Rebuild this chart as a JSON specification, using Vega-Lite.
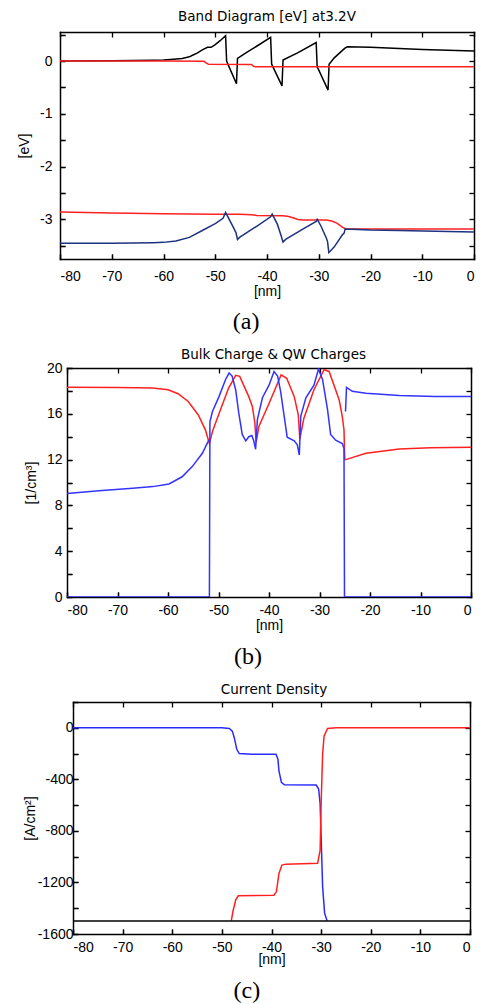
{
  "$schema": "https://vega.github.io/schema/vega-lite/v6.json",
  "padding": {"left": 17, "top": 9, "right": 4, "bottom": 0},
  "background": "white",
  "config": {
    "font": "Liberation Sans",
    "view": {"stroke": null},
    "axis": {
      "domain": true, "domainColor": "black", "domainWidth": 1.5, "domainCap": "square",
      "grid": false, "tickSize": -5, "tickColor": "black", "tickWidth": 1.3,
      "labelFontSize": 14, "labelColor": "black", "labelPadding": 6,
      "titleFontSize": 14, "titleFontWeight": "normal", "titleColor": "black"
    },
    "title": {"fontSize": 13.5, "fontWeight": "normal", "color": "black", "font": "DejaVu Sans"},
    "concat": {"spacing": 13}
  },
  "datasets": {
    "a": [
      {"s": "cb", "x": -80, "y": 0.0}, {"s": "cb", "x": -70, "y": 0.005}, {"s": "cb", "x": -62, "y": 0.015}, {"s": "cb", "x": -60, "y": 0.02},
      {"s": "cb", "x": -58, "y": 0.035}, {"s": "cb", "x": -56.4, "y": 0.05}, {"s": "cb", "x": -55, "y": 0.08}, {"s": "cb", "x": -54.4, "y": 0.11},
      {"s": "cb", "x": -53.5, "y": 0.15}, {"s": "cb", "x": -52.5, "y": 0.21}, {"s": "cb", "x": -51.5, "y": 0.26}, {"s": "cb", "x": -50.8, "y": 0.26},
      {"s": "cb", "x": -50, "y": 0.31}, {"s": "cb", "x": -49, "y": 0.39}, {"s": "cb", "x": -48, "y": 0.48}, {"s": "cb", "x": -47.8, "y": 0.0},
      {"s": "cb", "x": -47.6, "y": -0.05}, {"s": "cb", "x": -45.9, "y": -0.43}, {"s": "cb", "x": -45.7, "y": 0.05}, {"s": "cb", "x": -44, "y": 0.16},
      {"s": "cb", "x": -42, "y": 0.28}, {"s": "cb", "x": -39.3, "y": 0.45}, {"s": "cb", "x": -39.1, "y": -0.06}, {"s": "cb", "x": -38.9, "y": -0.1},
      {"s": "cb", "x": -37.1, "y": -0.47}, {"s": "cb", "x": -36.9, "y": 0.02}, {"s": "cb", "x": -34, "y": 0.16}, {"s": "cb", "x": -30.5, "y": 0.35},
      {"s": "cb", "x": -30.3, "y": -0.12}, {"s": "cb", "x": -30.1, "y": -0.15}, {"s": "cb", "x": -28.2, "y": -0.55}, {"s": "cb", "x": -28.0, "y": -0.06},
      {"s": "cb", "x": -27, "y": 0.06}, {"s": "cb", "x": -26, "y": 0.15}, {"s": "cb", "x": -25, "y": 0.24}, {"s": "cb", "x": -24.5, "y": 0.27},
      {"s": "cb", "x": -20, "y": 0.26}, {"s": "cb", "x": -10, "y": 0.22}, {"s": "cb", "x": 0, "y": 0.19},
      {"s": "ef", "x": -80, "y": 0.0}, {"s": "ef", "x": -60, "y": 0.0}, {"s": "ef", "x": -52.2, "y": -0.005}, {"s": "ef", "x": -51.7, "y": -0.04},
      {"s": "ef", "x": -51.3, "y": -0.06}, {"s": "ef", "x": -43, "y": -0.065}, {"s": "ef", "x": -42.6, "y": -0.1}, {"s": "ef", "x": -42.2, "y": -0.11},
      {"s": "ef", "x": 0, "y": -0.11},
      {"s": "vr", "x": -80, "y": -2.86}, {"s": "vr", "x": -70, "y": -2.88}, {"s": "vr", "x": -60, "y": -2.895}, {"s": "vr", "x": -50, "y": -2.9},
      {"s": "vr", "x": -45.4, "y": -2.9}, {"s": "vr", "x": -43, "y": -2.91}, {"s": "vr", "x": -42, "y": -2.925}, {"s": "vr", "x": -37, "y": -2.93},
      {"s": "vr", "x": -36, "y": -2.94}, {"s": "vr", "x": -35, "y": -2.97}, {"s": "vr", "x": -34, "y": -3.0}, {"s": "vr", "x": -33, "y": -3.01},
      {"s": "vr", "x": -28.5, "y": -3.01}, {"s": "vr", "x": -27.5, "y": -3.03}, {"s": "vr", "x": -26.5, "y": -3.07}, {"s": "vr", "x": -25.5, "y": -3.14},
      {"s": "vr", "x": -24.8, "y": -3.18}, {"s": "vr", "x": -20, "y": -3.18}, {"s": "vr", "x": 0, "y": -3.18},
      {"s": "vb", "x": -80, "y": -3.45}, {"s": "vb", "x": -70, "y": -3.45}, {"s": "vb", "x": -62, "y": -3.44}, {"s": "vb", "x": -60, "y": -3.435},
      {"s": "vb", "x": -57.6, "y": -3.41}, {"s": "vb", "x": -55, "y": -3.34}, {"s": "vb", "x": -52.5, "y": -3.21}, {"s": "vb", "x": -50, "y": -3.08},
      {"s": "vb", "x": -48.5, "y": -2.98}, {"s": "vb", "x": -48, "y": -2.87}, {"s": "vb", "x": -47.3, "y": -3.0}, {"s": "vb", "x": -46.5, "y": -3.15},
      {"s": "vb", "x": -46, "y": -3.25}, {"s": "vb", "x": -45.7, "y": -3.38}, {"s": "vb", "x": -45.3, "y": -3.34}, {"s": "vb", "x": -42, "y": -3.13},
      {"s": "vb", "x": -39.3, "y": -2.95}, {"s": "vb", "x": -39, "y": -2.9}, {"s": "vb", "x": -38, "y": -3.09}, {"s": "vb", "x": -37.3, "y": -3.3},
      {"s": "vb", "x": -36.9, "y": -3.43}, {"s": "vb", "x": -36.4, "y": -3.38}, {"s": "vb", "x": -33, "y": -3.18}, {"s": "vb", "x": -30.5, "y": -3.04},
      {"s": "vb", "x": -30.3, "y": -3.0}, {"s": "vb", "x": -29.6, "y": -3.12}, {"s": "vb", "x": -28.5, "y": -3.36}, {"s": "vb", "x": -28.3, "y": -3.42},
      {"s": "vb", "x": -28.05, "y": -3.63}, {"s": "vb", "x": -27, "y": -3.52}, {"s": "vb", "x": -25.5, "y": -3.3}, {"s": "vb", "x": -25.1, "y": -3.26},
      {"s": "vb", "x": -24.9, "y": -3.18}, {"s": "vb", "x": -20, "y": -3.2}, {"s": "vb", "x": -14.5, "y": -3.21}, {"s": "vb", "x": -5, "y": -3.23},
      {"s": "vb", "x": 0, "y": -3.24}
    ],
    "b": [
      {"s": "n", "x": -80, "y": 18.31}, {"s": "n", "x": -70, "y": 18.3}, {"s": "n", "x": -63, "y": 18.25}, {"s": "n", "x": -60, "y": 18.1},
      {"s": "n", "x": -58, "y": 17.75}, {"s": "n", "x": -56, "y": 17.08}, {"s": "n", "x": -54, "y": 15.9}, {"s": "n", "x": -52.6, "y": 14.6},
      {"s": "n", "x": -51.8, "y": 13.4}, {"s": "n", "x": -51.2, "y": 14.45}, {"s": "n", "x": -50, "y": 15.9}, {"s": "n", "x": -48, "y": 18.25},
      {"s": "n", "x": -46.6, "y": 19.36}, {"s": "n", "x": -45.8, "y": 19.27}, {"s": "n", "x": -44, "y": 17.5}, {"s": "n", "x": -43.3, "y": 16.64},
      {"s": "n", "x": -42.8, "y": 15.2}, {"s": "n", "x": -42.55, "y": 13.5}, {"s": "n", "x": -42, "y": 14.9}, {"s": "n", "x": -40, "y": 16.9},
      {"s": "n", "x": -37.6, "y": 19.4}, {"s": "n", "x": -36.5, "y": 19.1}, {"s": "n", "x": -35, "y": 17.5}, {"s": "n", "x": -34.2, "y": 15.9},
      {"s": "n", "x": -33.9, "y": 13.8}, {"s": "n", "x": -33.1, "y": 15.6}, {"s": "n", "x": -31.1, "y": 18.1}, {"s": "n", "x": -29.1, "y": 19.85},
      {"s": "n", "x": -28.1, "y": 19.7}, {"s": "n", "x": -26.1, "y": 17.2}, {"s": "n", "x": -25.5, "y": 15.8}, {"s": "n", "x": -25.15, "y": 14.6},
      {"s": "n", "x": -25.0, "y": 12.0}, {"s": "n", "x": -24.8, "y": 12.0}, {"s": "n", "x": -20.8, "y": 12.55}, {"s": "n", "x": -14.2, "y": 12.93},
      {"s": "n", "x": -8, "y": 13.03}, {"s": "n", "x": 0, "y": 13.08},
      {"s": "pl", "x": -80, "y": 9.05}, {"s": "pl", "x": -73.7, "y": 9.28}, {"s": "pl", "x": -67, "y": 9.49}, {"s": "pl", "x": -63, "y": 9.64},
      {"s": "pl", "x": -59.8, "y": 9.87}, {"s": "pl", "x": -57.2, "y": 10.5}, {"s": "pl", "x": -55.2, "y": 11.39}, {"s": "pl", "x": -53.2, "y": 12.55},
      {"s": "pl", "x": -51.9, "y": 13.72},
      {"s": "p", "x": -80, "y": 0}, {"s": "p", "x": -51.8, "y": 0}, {"s": "p", "x": -51.7, "y": 15.3}, {"s": "p", "x": -51.2, "y": 16.2},
      {"s": "p", "x": -49.9, "y": 17.5}, {"s": "p", "x": -48.6, "y": 19.0}, {"s": "p", "x": -47.9, "y": 19.56}, {"s": "p", "x": -47.3, "y": 19.3},
      {"s": "p", "x": -46.6, "y": 18.1}, {"s": "p", "x": -46, "y": 16.1}, {"s": "p", "x": -45.3, "y": 14.2}, {"s": "p", "x": -44.6, "y": 13.64},
      {"s": "p", "x": -44, "y": 14.0}, {"s": "p", "x": -43.4, "y": 14.1}, {"s": "p", "x": -43, "y": 13.6}, {"s": "p", "x": -42.65, "y": 12.9},
      {"s": "p", "x": -42.3, "y": 15.5}, {"s": "p", "x": -41.3, "y": 17.4}, {"s": "p", "x": -40, "y": 18.5}, {"s": "p", "x": -39, "y": 19.7},
      {"s": "p", "x": -38.3, "y": 19.3}, {"s": "p", "x": -37.7, "y": 17.96}, {"s": "p", "x": -37, "y": 15.8}, {"s": "p", "x": -36.4, "y": 13.96},
      {"s": "p", "x": -35, "y": 13.64}, {"s": "p", "x": -34.4, "y": 13.3}, {"s": "p", "x": -34.0, "y": 12.4}, {"s": "p", "x": -33.7, "y": 15.8},
      {"s": "p", "x": -32.7, "y": 17.4}, {"s": "p", "x": -31.1, "y": 18.5}, {"s": "p", "x": -30.2, "y": 19.9}, {"s": "p", "x": -29.4, "y": 19.0},
      {"s": "p", "x": -28.4, "y": 16.35}, {"s": "p", "x": -27.8, "y": 14.2}, {"s": "p", "x": -26.8, "y": 13.7}, {"s": "p", "x": -25.5, "y": 13.4},
      {"s": "p", "x": -25.15, "y": 13.0}, {"s": "p", "x": -25.05, "y": 0}, {"s": "p", "x": 0, "y": 0},
      {"s": "pr", "x": -24.85, "y": 16.2}, {"s": "pr", "x": -24.65, "y": 18.3}, {"s": "pr", "x": -23.5, "y": 17.96}, {"s": "pr", "x": -20.8, "y": 17.8},
      {"s": "pr", "x": -14.2, "y": 17.6}, {"s": "pr", "x": -7, "y": 17.52}, {"s": "pr", "x": 0, "y": 17.5}
    ],
    "c": [
      {"s": "jn", "x": -80, "y": 0}, {"s": "jn", "x": -50, "y": 0}, {"s": "jn", "x": -48.5, "y": -5}, {"s": "jn", "x": -47.9, "y": -26},
      {"s": "jn", "x": -47.5, "y": -77}, {"s": "jn", "x": -47, "y": -167}, {"s": "jn", "x": -46.5, "y": -200}, {"s": "jn", "x": -44, "y": -205},
      {"s": "jn", "x": -39.1, "y": -205}, {"s": "jn", "x": -38.7, "y": -244}, {"s": "jn", "x": -38.5, "y": -334}, {"s": "jn", "x": -38, "y": -424},
      {"s": "jn", "x": -37.4, "y": -442}, {"s": "jn", "x": -31, "y": -444}, {"s": "jn", "x": -30.5, "y": -475}, {"s": "jn", "x": -30.2, "y": -590},
      {"s": "jn", "x": -30, "y": -847}, {"s": "jn", "x": -29.7, "y": -1232}, {"s": "jn", "x": -29.3, "y": -1438}, {"s": "jn", "x": -28.8, "y": -1497},
      {"s": "jp", "x": -48.1, "y": -1497}, {"s": "jp", "x": -47.7, "y": -1412}, {"s": "jp", "x": -47.2, "y": -1335}, {"s": "jp", "x": -46.7, "y": -1304},
      {"s": "jp", "x": -39.5, "y": -1299}, {"s": "jp", "x": -39, "y": -1271}, {"s": "jp", "x": -38.5, "y": -1130}, {"s": "jp", "x": -37.9, "y": -1065},
      {"s": "jp", "x": -37.1, "y": -1058}, {"s": "jp", "x": -30.7, "y": -1052}, {"s": "jp", "x": -30.2, "y": -950}, {"s": "jp", "x": -30, "y": -590},
      {"s": "jp", "x": -29.7, "y": -205}, {"s": "jp", "x": -29.4, "y": -64}, {"s": "jp", "x": -28.7, "y": -5}, {"s": "jp", "x": -27, "y": 0},
      {"s": "jp", "x": 0, "y": 0},
      {"s": "jt", "x": -80, "y": -1500}, {"s": "jt", "x": 0, "y": -1500}
    ]
  },
  "vconcat": [
    {
      "title": {"text": "(a)", "orient": "bottom", "anchor": "middle", "font": "Liberation Serif", "fontSize": 24, "offset": 12},
      "vconcat": [
        {
          "width": 414, "height": 227,
          "title": {"text": "Band Diagram [eV] at3.2V", "offset": 8},
          "data": {"name": "a"},
          "layer": [
            {
              "mark": {"type": "line", "strokeWidth": 1.5, "clip": true},
              "encoding": {
                "x": {"field": "x", "type": "quantitative", "scale": {"domain": [-80, 0], "nice": false},
                      "axis": {"orient": "bottom", "values": [-80, -70, -60, -50, -40, -30, -20, -10, 0], "labelExpr": "'' + datum.value", "labelPadding": 15, "title": "[nm]", "titlePadding": 1}},
                "y": {"field": "y", "type": "quantitative", "scale": {"domain": [-3.75, 0.55], "nice": false, "zero": false},
                      "axis": {"orient": "left", "values": [-3.5, -3, -2.5, -2, -1.5, -1, -0.5, 0, 0.5], "labelExpr": "datum.value % 1 == 0 ? '' + datum.value : ''", "labelPadding": 13, "title": "[eV]", "titlePadding": 8}},
                "color": {"field": "s", "type": "nominal", "legend": null,
                          "scale": {"domain": ["cb", "ef", "vr", "vb", "n", "pl", "p", "pr", "jn", "jp", "jt"], "range": ["#000000", "#ff2020", "#ff2020", "#1c3382", "#ff2020", "#3333ff", "#3333ff", "#3333ff", "#2a2aff", "#ff2020", "#000000"]}}
              }
            },
            {
              "mark": {"type": "line", "opacity": 0},
              "encoding": {
                "x": {"field": "x", "type": "quantitative", "axis": {"orient": "top", "offset": -227, "tickSize": 5, "domain": false, "values": [-80, -70, -60, -50, -40, -30, -20, -10, 0], "labels": false, "title": null}},
                "y": {"field": "y", "type": "quantitative", "axis": {"orient": "right", "offset": -414, "tickSize": 5, "domain": false, "values": [-3.5, -3, -2.5, -2, -1.5, -1, -0.5, 0, 0.5], "labels": false, "title": null}}
              }
            },
            {
              "mark": {"type": "line", "opacity": 0},
              "encoding": {
                "x": {"field": "x", "type": "quantitative", "axis": {"orient": "bottom", "offset": -227, "tickSize": 5, "values": [-80, -70, -60, -50, -40, -30, -20, -10, 0], "labels": false, "title": null}},
                "y": {"field": "y", "type": "quantitative", "axis": {"orient": "left", "offset": -414, "tickSize": 5, "values": [-3.5, -3, -2.5, -2, -1.5, -1, -0.5, 0, 0.5], "labels": false, "title": null}}
              }
            }
          ],
          "resolve": {"axis": {"x": "independent", "y": "independent"}}
        }
      ]
    },
    {
      "title": {"text": "(b)", "orient": "bottom", "anchor": "middle", "font": "Liberation Serif", "fontSize": 24, "offset": 13},
      "vconcat": [
        {
          "width": 411, "height": 229,
          "title": {"text": "Bulk Charge & QW Charges", "offset": 0, "dx": 8},
          "data": {"name": "b"},
          "layer": [
            {
              "mark": {"type": "line", "strokeWidth": 1.5, "clip": true},
              "encoding": {
                "x": {"field": "x", "type": "quantitative", "scale": {"domain": [-80, 0], "nice": false, "range": [7, 411]},
                      "axis": {"orient": "bottom", "values": [-80, -70, -60, -50, -40, -30, -20, -10, 0], "labelExpr": "'' + datum.value", "labelPadding": 11, "title": "[nm]", "titlePadding": 1}},
                "y": {"field": "y", "type": "quantitative", "scale": {"domain": [0, 20], "nice": false},
                      "axis": {"orient": "left", "offset": -7, "values": [0, 2, 4, 6, 8, 10, 12, 14, 16, 18, 20], "labelExpr": "datum.value % 4 == 0 ? '' + datum.value : ''", "labelPadding": 10, "title": "[1/cm³]", "titlePadding": 8}},
                "color": {"field": "s", "type": "nominal", "legend": null,
                          "scale": {"domain": ["cb", "ef", "vr", "vb", "n", "pl", "p", "pr", "jn", "jp", "jt"], "range": ["#000000", "#ff2020", "#ff2020", "#1c3382", "#ff2020", "#3333ff", "#3333ff", "#3333ff", "#2a2aff", "#ff2020", "#000000"]}}
              }
            },
            {
              "mark": {"type": "line", "opacity": 0},
              "encoding": {
                "x": {"field": "x", "type": "quantitative", "axis": {"orient": "top", "offset": -229, "tickSize": 5, "domain": false, "values": [-80, -70, -60, -50, -40, -30, -20, -10, 0], "labels": false, "title": null}},
                "y": {"field": "y", "type": "quantitative", "axis": {"orient": "right", "offset": -404, "tickSize": 5, "domain": false, "values": [0, 2, 4, 6, 8, 10, 12, 14, 16, 18, 20], "labels": false, "title": null}}
              }
            },
            {
              "mark": {"type": "line", "opacity": 0},
              "encoding": {
                "x": {"field": "x", "type": "quantitative", "axis": {"orient": "bottom", "offset": -229, "tickSize": 5, "values": [-80, -70, -60, -50, -40, -30, -20, -10, 0], "labels": false, "title": null}},
                "y": {"field": "y", "type": "quantitative", "axis": {"orient": "left", "offset": -411, "tickSize": 5, "values": [0, 2, 4, 6, 8, 10, 12, 14, 16, 18, 20], "labels": false, "title": null}}
              }
            }
          ],
          "resolve": {"axis": {"x": "independent", "y": "independent"}}
        }
      ]
    },
    {
      "title": {"text": "(c)", "orient": "bottom", "anchor": "middle", "font": "Liberation Serif", "fontSize": 24, "offset": 13},
      "vconcat": [
        {
          "width": 410, "height": 232,
          "title": {"text": "Current Density", "offset": 5, "dx": 9},
          "data": {"name": "c"},
          "layer": [
            {
              "mark": {"type": "line", "strokeWidth": 1.5, "clip": true},
              "encoding": {
                "x": {"field": "x", "type": "quantitative", "scale": {"domain": [-80, 0], "nice": false, "range": [13, 410]},
                      "axis": {"orient": "bottom", "values": [-80, -70, -60, -50, -40, -30, -20, -10, 0], "labelExpr": "'' + datum.value", "labelPadding": 11, "title": "[nm]", "titlePadding": -2}},
                "y": {"field": "y", "type": "quantitative", "scale": {"domain": [-1600, 200], "nice": false},
                      "axis": {"orient": "left", "offset": -13, "values": [-1600, -1400, -1200, -1000, -800, -600, -400, -200, 0, 200], "labelExpr": "datum.value % 400 == 0 ? '' + datum.value : ''", "labelPadding": 5, "title": "[A/cm²]", "titlePadding": 0}},
                "color": {"field": "s", "type": "nominal", "legend": null,
                          "scale": {"domain": ["cb", "ef", "vr", "vb", "n", "pl", "p", "pr", "jn", "jp", "jt"], "range": ["#000000", "#ff2020", "#ff2020", "#1c3382", "#ff2020", "#3333ff", "#3333ff", "#3333ff", "#2a2aff", "#ff2020", "#000000"]}}
              }
            },
            {
              "mark": {"type": "line", "opacity": 0},
              "encoding": {
                "x": {"field": "x", "type": "quantitative", "axis": {"orient": "top", "offset": -232, "tickSize": 5, "domain": false, "values": [-80, -70, -60, -50, -40, -30, -20, -10, 0], "labels": false, "title": null}},
                "y": {"field": "y", "type": "quantitative", "axis": {"orient": "right", "offset": -397, "tickSize": 5, "domain": false, "values": [-1600, -1400, -1200, -1000, -800, -600, -400, -200, 0, 200], "labels": false, "title": null}}
              }
            },
            {
              "mark": {"type": "line", "opacity": 0},
              "encoding": {
                "x": {"field": "x", "type": "quantitative", "axis": {"orient": "bottom", "offset": -232, "tickSize": 5, "values": [-80, -70, -60, -50, -40, -30, -20, -10, 0], "labels": false, "title": null}},
                "y": {"field": "y", "type": "quantitative", "axis": {"orient": "left", "offset": -410, "tickSize": 5, "values": [-1600, -1400, -1200, -1000, -800, -600, -400, -200, 0, 200], "labels": false, "title": null}}
              }
            }
          ],
          "resolve": {"axis": {"x": "independent", "y": "independent"}}
        }
      ]
    }
  ]
}
